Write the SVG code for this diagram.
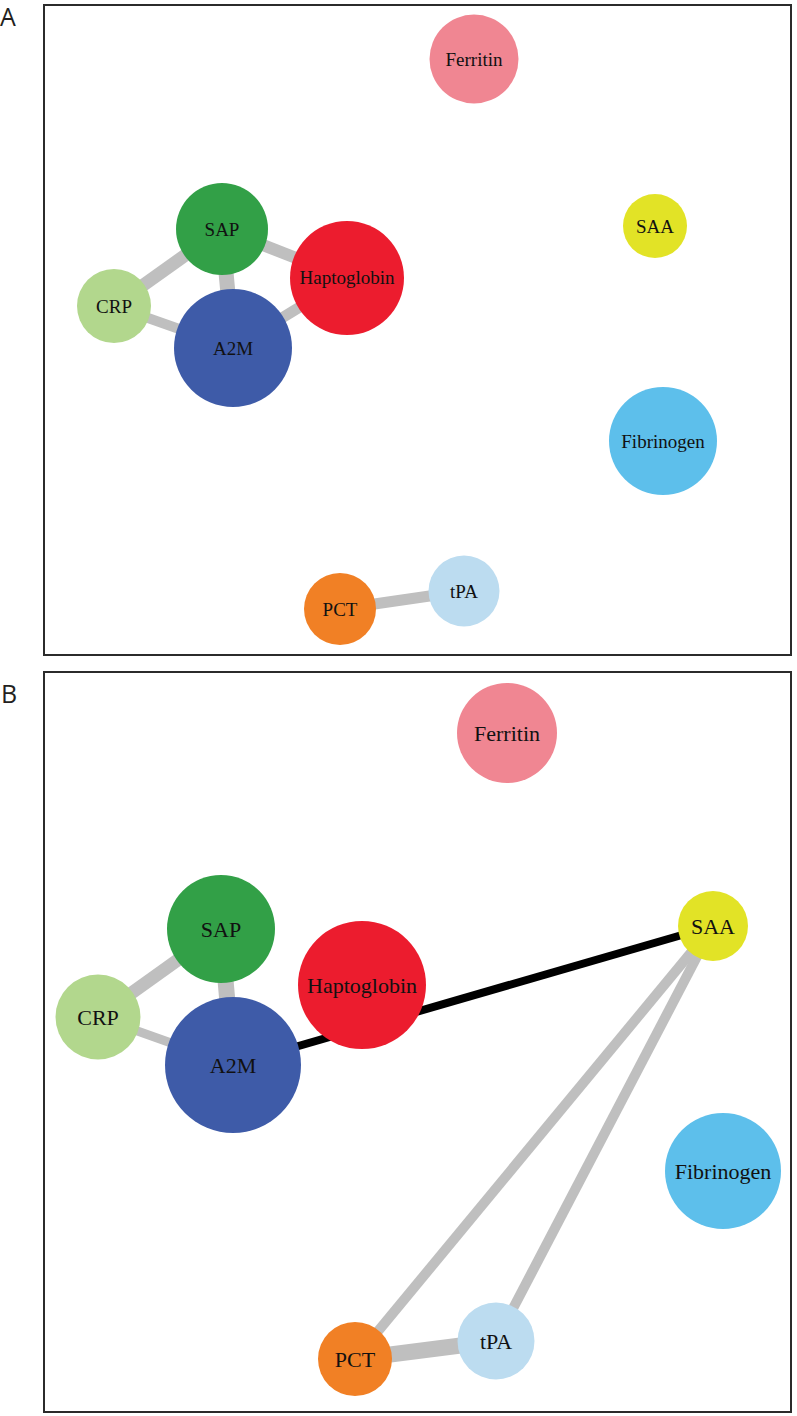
<svg xmlns="http://www.w3.org/2000/svg" width="797" height="1416" viewBox="0 0 797 1416">
<style>
.frame{fill:#ffffff;stroke:#2b2b2b;stroke-width:2}
.plabel{font-family:"Open Sans","Liberation Sans",sans-serif;font-size:25px;fill:#231f20}
.e{stroke:#bfbfbf;stroke-linecap:butt;fill:none}
.eb{stroke:#000000;fill:none}
.ta{font-family:"Liberation Serif","Times New Roman",serif;font-size:19px;fill:#111111;text-anchor:middle}
.tb{font-family:"Liberation Serif","Times New Roman",serif;font-size:22px;fill:#111111;text-anchor:middle}
.ferritin{fill:#f08692}
.saa{fill:#e2e326}
.fib{fill:#5dbfeb}
.tpa{fill:#bcdcf0}
.pct{fill:#f18025}
.hapt{fill:#ec1c2e}
.sap{fill:#32a047}
.crp{fill:#b2d78d}
.a2m{fill:#3e5ba8}
</style>
<rect class="frame" x="44" y="5" width="747" height="650"/>
<rect class="frame" x="44" y="672" width="747" height="740"/>
<text class="plabel" x="0" y="26">A</text>
<text class="plabel" x="1" y="703">B</text>
<g id="connectors">
<line class="e" x1="114" y1="306" x2="222" y2="229" stroke-width="13"/>
<line class="e" x1="114" y1="306" x2="233" y2="348" stroke-width="10"/>
<line class="e" x1="222" y1="229" x2="233" y2="348" stroke-width="15"/>
<line class="e" x1="222" y1="229" x2="347" y2="278" stroke-width="12"/>
<line class="e" x1="233" y1="348" x2="347" y2="278" stroke-width="11"/>
<line class="e" x1="340" y1="609" x2="464" y2="591" stroke-width="11"/>
<line class="e" x1="98" y1="1017" x2="221" y2="929" stroke-width="13"/>
<line class="e" x1="98" y1="1017" x2="233" y2="1065" stroke-width="9"/>
<line class="e" x1="221" y1="929" x2="233" y2="1065" stroke-width="16"/>
<line class="eb" x1="233" y1="1065" x2="713" y2="926" stroke-width="8"/>
<line class="e" x1="713" y1="926" x2="355" y2="1359" stroke-width="10"/>
<line class="e" x1="713" y1="926" x2="496" y2="1341" stroke-width="10"/>
<line class="e" x1="355" y1="1359" x2="496" y2="1341" stroke-width="16"/>
</g>
<g id="A-Ferritin"><circle class="ferritin" cx="474" cy="59" r="44.5"/><text class="ta" x="474" y="65.5">Ferritin</text></g>
<g id="A-SAA"><circle class="saa" cx="655" cy="226" r="32"/><text class="ta" x="655" y="232.5">SAA</text></g>
<g id="A-Fibrinogen"><circle class="fib" cx="663" cy="441" r="54"/><text class="ta" x="663" y="447.5">Fibrinogen</text></g>
<g id="A-tPA"><circle class="tpa" cx="464" cy="591" r="35.5"/><text class="ta" x="464" y="597.5">tPA</text></g>
<g id="A-PCT"><circle class="pct" cx="340" cy="609" r="36"/><text class="ta" x="340" y="615.5">PCT</text></g>
<g id="A-SAP"><circle class="sap" cx="222" cy="229" r="46"/><text class="ta" x="222" y="235.5">SAP</text></g>
<g id="A-Haptoglobin"><circle class="hapt" cx="347" cy="278" r="57"/><text class="ta" x="347" y="284">Haptoglobin</text></g>
<g id="A-CRP"><circle class="crp" cx="114" cy="306" r="37"/><text class="ta" x="114" y="312.5">CRP</text></g>
<g id="A-A2M"><circle class="a2m" cx="233" cy="348" r="59"/><text class="ta" x="233" y="354.5">A2M</text></g>
<g id="B-Ferritin"><circle class="ferritin" cx="507" cy="733" r="50"/><text class="tb" x="507" y="740.5">Ferritin</text></g>
<g id="B-SAA"><circle class="saa" cx="713" cy="926" r="35"/><text class="tb" x="713" y="933.5">SAA</text></g>
<g id="B-Fibrinogen"><circle class="fib" cx="723" cy="1171" r="58"/><text class="tb" x="723" y="1178.5">Fibrinogen</text></g>
<g id="B-tPA"><circle class="tpa" cx="496" cy="1341" r="38.5"/><text class="tb" x="496" y="1348.5">tPA</text></g>
<g id="B-PCT"><circle class="pct" cx="355" cy="1359" r="37"/><text class="tb" x="355" y="1366.5">PCT</text></g>
<g id="B-SAP"><circle class="sap" cx="221" cy="929" r="54"/><text class="tb" x="221" y="936.5">SAP</text></g>
<g id="B-Haptoglobin"><circle class="hapt" cx="362" cy="985" r="64"/><text class="tb" x="362" y="992.5">Haptoglobin</text></g>
<g id="B-CRP"><circle class="crp" cx="98" cy="1017" r="42.5"/><text class="tb" x="98" y="1024.5">CRP</text></g>
<g id="B-A2M"><circle class="a2m" cx="233" cy="1065" r="68"/><text class="tb" x="233" y="1072.5">A2M</text></g>
</svg>
